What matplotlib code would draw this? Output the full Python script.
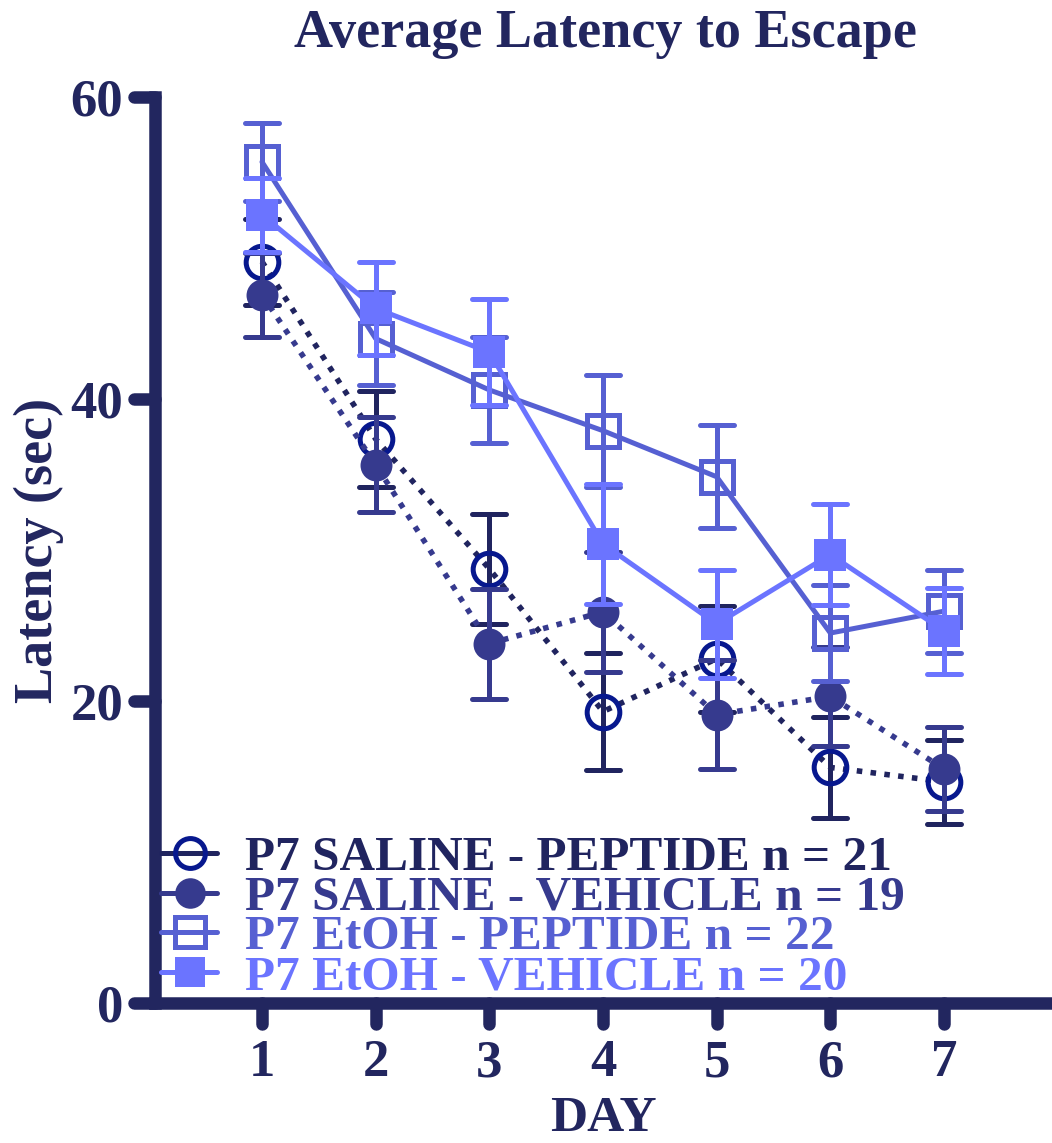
import matplotlib
matplotlib.use('Agg')
import matplotlib.pyplot as plt
from matplotlib.markers import MarkerStyle

# ---------------- data ----------------
days = [1, 2, 3, 4, 5, 6, 7]
day_labels = ['1', '2', '3', '4', '5', '6', '7']
y_ticks = [0, 20, 40, 60]

sal_pep_mean = [49.1, 37.35, 28.75, 19.3, 22.8, 15.6, 14.65]
sal_pep_sem = [2.85, 3.15, 3.65, 3.9, 3.5, 3.35, 2.8]
sal_veh_mean = [46.9, 35.65, 23.8, 25.9, 19.1, 20.3, 15.5]
sal_veh_sem = [2.8, 3.15, 3.65, 4.0, 3.6, 3.3, 2.8]
etoh_pep_mean = [55.7, 44.0, 40.6, 37.9, 34.85, 24.5, 25.95]
etoh_pep_sem = [2.6, 3.1, 3.5, 3.7, 3.4, 3.2, 2.75]
etoh_veh_mean = [52.2, 46.0, 43.1, 30.4, 25.1, 29.7, 24.65]
etoh_veh_sem = [2.45, 3.1, 3.5, 3.95, 3.55, 3.35, 2.85]

labels = ['P7 SALINE - PEPTIDE n = 21',
          'P7 SALINE - VEHICLE n = 19',
          'P7 EtOH - PEPTIDE n = 22',
          'P7 EtOH - VEHICLE n = 20']

# ---------------- style ----------------
plt.rcParams['font.family'] = ['Liberation Serif', 'DejaVu Serif']
plt.rcParams['font.weight'] = 'bold'

AX = '#22265f'
C1 = '#20245f'   # saline peptide lines / bars
C1M = '#07188e'  # saline peptide marker
C2 = '#363a8e'
C3 = '#5660d2'
C4 = '#6b74ff'

W, H = 1052, 1143
fig = plt.figure(figsize=(W / 100, H / 100), dpi=100)
ax = fig.add_axes([155 / W, (H - 1003) / H, (W - 155) / W, 906 / H])


def px_x(px):
    return (px - 155) / 897.0


def px_y(py):
    return (1003 - py) / 906.0


series = [
    dict(mean=sal_pep_mean, sem=sal_pep_sem, c=C1, mc=C1M, marker='o', filled=False, ls=(0, (1, 1.5)), lw=4.0),
    dict(mean=sal_veh_mean, sem=sal_veh_sem, c=C2, mc=C2, marker='o', filled=True, ls=(0, (1, 1.5)), lw=4.0),
    dict(mean=etoh_pep_mean, sem=etoh_pep_sem, c=C3, mc=C3, marker='s', filled=False, ls='-', lw=3.6),
    dict(mean=etoh_veh_mean, sem=etoh_veh_sem, c=C4, mc=C4, marker='s', filled=True, ls='-', lw=3.6),
]

cap_marker = MarkerStyle('_', capstyle='round')

for i, s in enumerate(series):
    z = 2 + i
    eb = ax.errorbar(days, s['mean'], yerr=s['sem'], fmt='none', ecolor=s['c'],
                     elinewidth=3.6, capsize=12.5, capthick=3.6, zorder=z)
    for cl in eb[1]:
        cl.set_marker(cap_marker)
    ax.plot(days, s['mean'], color=s['c'], lw=s['lw'], ls=s['ls'],
            dash_capstyle='butt', solid_capstyle='round', zorder=z + 0.1)
    if s['filled']:
        ax.plot(days, s['mean'], ls='none', marker=s['marker'], ms=23,
                mfc=s['mc'], mec=s['mc'], mew=0, zorder=z + 0.2)
    else:
        ax.plot(days, s['mean'], ls='none', marker=s['marker'], ms=23.5,
                mfc='none', mec=s['mc'], mew=3.6, zorder=z + 0.2)

ax.set_xlim(0.0587, 7.95)
ax.set_ylim(0, 60)
ax.set_xticks(days)
ax.set_xticklabels(day_labels)
ax.set_yticks(y_ticks)
ax.set_yticklabels([str(v) for v in y_ticks])

for side in ['top', 'right']:
    ax.spines[side].set_visible(False)
for side in ['left', 'bottom']:
    ax.spines[side].set_linewidth(9)
    ax.spines[side].set_color(AX)

ax.tick_params(axis='both', which='major', length=15, width=9, color=AX,
               labelcolor=AX, labelsize=38)
ax.tick_params(axis='y', pad=8)
ax.tick_params(axis='x', pad=11)
for tl in ax.xaxis.get_ticklines() + ax.yaxis.get_ticklines():
    tl.set_marker(MarkerStyle(tl.get_marker(), capstyle='round'))
for t in ax.get_xticklabels() + ax.get_yticklabels():
    t.set_fontweight('bold')

ax.set_ylabel('Latency (sec)', fontsize=39, color=AX, fontweight='bold')
ax.yaxis.set_label_coords(px_x(64), 0.5)
ax.set_xlabel('DAY', fontsize=37, color=AX, fontweight='bold')
ax.xaxis.set_label_coords(0.5, px_y(1096))
ax.xaxis.label.set_va('top')

fig.text(605 / W, 1 - 47 / H, 'Average Latency to Escape', ha='center', va='baseline',
         fontsize=39, color=AX, fontweight='bold')

# ---------------- legend (manual) ----------------
baselines = [870, 909.7, 949.4, 989]
text_colors = [C1, C2, C3, C4]
for i, s in enumerate(series):
    yc = px_y(baselines[i] - 17)
    ax.plot([px_x(161), px_x(217)], [yc, yc], transform=ax.transAxes, color=s['c'],
            lw=3.6, solid_capstyle='round', clip_on=False, zorder=10)
    if s['filled']:
        ax.plot([px_x(190)], [yc], transform=ax.transAxes, ls='none', marker=s['marker'],
                ms=22, mfc=s['mc'], mec=s['mc'], mew=0, clip_on=False, zorder=11)
    else:
        ax.plot([px_x(190)], [yc], transform=ax.transAxes, ls='none', marker=s['marker'],
                ms=21.5, mfc='none', mec=s['mc'], mew=3.6, clip_on=False, zorder=11)
    ax.text(px_x(245), px_y(baselines[i]), labels[i], transform=ax.transAxes,
            fontsize=35.5, color=text_colors[i], fontweight='bold', va='baseline', ha='left',
            zorder=12)

fig.savefig('out.png', dpi=100)
